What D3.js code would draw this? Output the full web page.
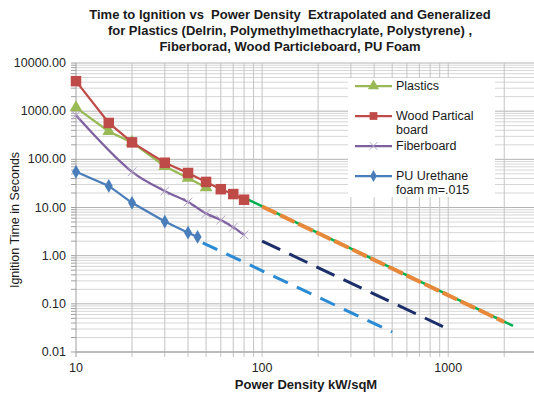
<!DOCTYPE html>
<html>
<head>
<meta charset="utf-8">
<script src="https://cdn.jsdelivr.net/npm/d3@7"></script>
<style>
  body { margin: 0; background: #fff; }
  text { font-family: "Liberation Sans", Arial, sans-serif; white-space: pre; }
</style>
</head>
<body>
<div class="chart"></div>
<script>

// measured series (kW/sqM vs seconds)
var plasticsPower = [10, 15, 20, 30, 40, 50],
    plasticsTime  = [1180, 380, 225, 72, 41, 26];

var woodPower = [10, 15, 20, 30, 40, 50, 60, 70, 80],
    woodTime  = [4200, 570, 225, 85, 52, 34, 24, 19, 14.5];

var fiberPower = [10, 20, 30, 40, 50, 60, 70, 80],
    fiberTime  = [820, 55, 22, 13, 7.5, 5.5, 3.9, 2.7];

var foamPower = [10, 15, 20, 30, 40, 45],
    foamTime  = [55, 28, 12.5, 5.1, 3.0, 2.45];

// extrapolated lines (end points)
var greenExtPower = [80, 2230],  greenExtTime = [16, 0.035];
var orangeExtPower = [100, 2000], orangeExtTime = [10.5, 0.042];
var navyExtPower = [100, 1000],  navyExtTime = [2.0, 0.030];
var blueExtPower = [48, 500],    blueExtTime = [1.85, 0.026];

var yTickLabels = ["0.01", "0.10", "1.00", "10.00", "100.00", "1000.00", "10000.00"];
var xTickLabels = ["10", "100", "1000"];

var titleLines = [
    "Time to Ignition vs  Power Density  Extrapolated and Generalized",
    "for Plastics (Delrin, Polymethylmethacrylate, Polystyrene) ,",
    "Fiberborad, Wood Particleboard, PU Foam"
];

var width = 534,
    height = 396;

var svg = d3.select(".chart").append("svg")
    .attr("width", width)
    .attr("height", height);

var x = d3.scaleLog().domain([10, 3000]).range([76, 537]);
var y = d3.scaleLog().domain([0.01, 10000]).range([352, 63]);

function zip(a, b) {
    return a.map(function(d, i) { return [d, b[i]]; });
}

// gridlines
var grid = svg.append("g").attr("class", "grid");

grid.selectAll(".hminor")
    .data(y.ticks())
    .enter().append("line")
    .attr("x1", 76).attr("x2", width)
    .attr("y1", function(d) { return y(d); })
    .attr("y2", function(d) { return y(d); })
    .attr("stroke", function(d) {
        var isMajor = Math.abs(Math.log10(d) - Math.round(Math.log10(d))) < 1e-6;
        return isMajor ? "#b4b4b4" : "#d6d6d6";
    })
    .attr("stroke-width", 1);

grid.selectAll(".vline")
    .data(x.ticks().filter(function(d) { return d > 10 && d <= 2000; }))
    .enter().append("line")
    .attr("y1", 63).attr("y2", 357)
    .attr("x1", function(d) { return x(d); })
    .attr("x2", function(d) { return x(d); })
    .attr("stroke", "#c4c4c4")
    .attr("stroke-width", 1);

// y axis line with little ticks
grid.append("line")
    .attr("x1", 76).attr("x2", 76)
    .attr("y1", 63).attr("y2", 352)
    .attr("stroke", "#a0a0a0");

grid.selectAll(".ytick")
    .data(y.ticks())
    .enter().append("line")
    .attr("x1", 71).attr("x2", 76)
    .attr("y1", function(d) { return y(d); })
    .attr("y2", function(d) { return y(d); })
    .attr("stroke", "#a0a0a0");

grid.append("line")
    .attr("x1", 76).attr("x2", width)
    .attr("y1", 352).attr("y2", 352)
    .attr("stroke", "#a0a0a0");

grid.append("line")
    .attr("x1", 76).attr("x2", 76)
    .attr("y1", 352).attr("y2", 357)
    .attr("stroke", "#a0a0a0");

// tick labels
svg.selectAll(".ylab")
    .data(yTickLabels)
    .enter().append("text")
    .attr("x", 66)
    .attr("y", function(d) { return y(+d) + 4; })
    .attr("text-anchor", "end")
    .attr("font-size", "12.5px")
    .attr("fill", "#262626")
    .text(function(d) { return d; });

svg.selectAll(".xlab")
    .data(xTickLabels)
    .enter().append("text")
    .attr("x", function(d) { return x(+d); })
    .attr("y", 372)
    .attr("text-anchor", "middle")
    .attr("font-size", "12.5px")
    .attr("fill", "#262626")
    .text(function(d) { return d; });

// axis titles
svg.append("text")
    .attr("transform", "translate(19,220) rotate(-90)")
    .attr("text-anchor", "middle")
    .attr("font-size", "12.5px")
    .attr("fill", "#1a1a1a")
    .text("Ignition Time in Seconds");

svg.append("text")
    .attr("x", 306)
    .attr("y", 389)
    .attr("text-anchor", "middle")
    .attr("font-size", "13px")
    .attr("font-weight", "bold")
    .attr("fill", "#1a1a1a")
    .text("Power Density kW/sqM");

svg.selectAll(".title")
    .data(titleLines)
    .enter().append("text")
    .attr("x", 290)
    .attr("y", function(d, i) { return 19 + i * 16; })
    .attr("text-anchor", "middle")
    .attr("font-size", "13px")
    .attr("font-weight", "bold")
    .attr("fill", "#1a1a1a")
    .text(function(d) { return d; });

var line = d3.line()
    .x(function(d) { return x(d[0]); })
    .y(function(d) { return y(d[1]); });

var smooth = d3.line()
    .curve(d3.curveCatmullRom)
    .x(function(d) { return x(d[0]); })
    .y(function(d) { return y(d[1]); });

// extrapolations
var ext = svg.append("g").attr("class", "extrap");

ext.append("path")
    .attr("d", line(zip(greenExtPower, greenExtTime)))
    .attr("fill", "none").attr("stroke", "#00b050").attr("stroke-width", 2.5);

ext.append("path")
    .attr("d", line(zip(orangeExtPower, orangeExtTime)))
    .attr("fill", "none").attr("stroke", "#e8883a").attr("stroke-width", 4)
    .attr("stroke-dasharray", "16,4");

ext.append("path")
    .attr("d", line(zip(navyExtPower, navyExtTime)))
    .attr("fill", "none").attr("stroke", "#1b2e6a").attr("stroke-width", 3)
    .attr("stroke-dasharray", "20,10");

ext.append("path")
    .attr("d", line(zip(blueExtPower, blueExtTime)))
    .attr("fill", "none").attr("stroke", "#2a8bd4").attr("stroke-width", 3)
    .attr("stroke-dasharray", "16,10");

// measured series
var series = [
    { name: "Plastics", data: zip(plasticsPower, plasticsTime), color: "#98b954", symbol: d3.symbolTriangle, size: 70, gen: line },
    { name: "Wood", data: zip(woodPower, woodTime), color: "#be4b48", symbol: d3.symbolSquare, size: 110, gen: line },
    { name: "Fiber", data: zip(fiberPower, fiberTime), color: "#7d60a0", symbol: d3.symbolX, size: 50, gen: smooth },
    { name: "Foam", data: zip(foamPower, foamTime), color: "#4a7ebb", symbol: d3.symbolDiamond, size: 55, gen: line }
];

series.forEach(function(s) {
    var g = svg.append("g");
    g.append("path")
        .attr("d", s.gen(s.data))
        .attr("fill", "none")
        .attr("stroke", s.color)
        .attr("stroke-width", 2.25);

    g.selectAll("path.pt")
        .data(s.data)
        .enter().append("path")
        .attr("class", "pt")
        .attr("transform", function(d) { return "translate(" + x(d[0]) + "," + y(d[1]) + ")"; })
        .attr("d", d3.symbol().type(s.symbol).size(s.size))
        .attr("fill", s.symbol === d3.symbolX ? "none" : s.color)
        .attr("stroke", s.symbol === d3.symbolX ? "#b3a2c7" : "none")
        .attr("stroke-width", 1);
});

// legend
var legendItems = [
    { lines: ["Plastics"], color: "#98b954", symbol: d3.symbolTriangle, size: 55, y: 86 },
    { lines: ["Wood Partical", "board"], color: "#be4b48", symbol: d3.symbolSquare, size: 60, y: 116 },
    { lines: ["Fiberboard"], color: "#7d60a0", symbol: d3.symbolX, size: 40, y: 146 },
    { lines: ["PU Urethane", "foam m=.015"], color: "#4a7ebb", symbol: d3.symbolDiamond, size: 40, y: 176 }
];

var legend = svg.append("g").attr("class", "legend");

legend.append("rect")
    .attr("x", 348).attr("y", 78)
    .attr("width", 147).attr("height", 119)
    .attr("fill", "#fff");

var item = legend.selectAll(".item")
    .data(legendItems)
    .enter().append("g")
    .attr("transform", function(d) { return "translate(0," + d.y + ")"; });

item.append("line")
    .attr("x1", 355).attr("x2", 392)
    .attr("stroke", function(d) { return d.color; })
    .attr("stroke-width", 2.25);

item.append("path")
    .attr("transform", "translate(373.5,0)")
    .attr("d", function(d) { return d3.symbol().type(d.symbol).size(d.size)(); })
    .attr("fill", function(d) { return d.symbol === d3.symbolX ? "none" : d.color; })
    .attr("stroke", function(d) { return d.symbol === d3.symbolX ? "#b3a2c7" : "none"; });

item.selectAll("text")
    .data(function(d) { return d.lines; })
    .enter().append("text")
    .attr("x", 396)
    .attr("y", function(d, i) { return 4 + i * 14; })
    .attr("font-size", "12.5px")
    .attr("fill", "#1a1a1a")
    .text(function(d) { return d; });

</script>
</body>
</html>
